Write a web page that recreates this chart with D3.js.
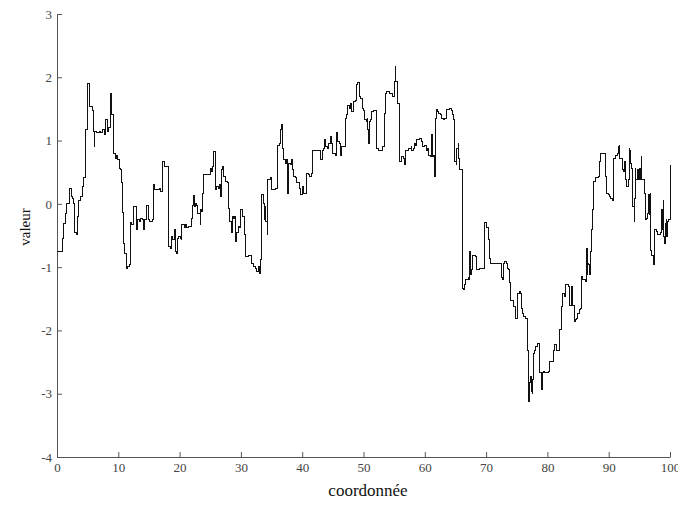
<!DOCTYPE html>
<html><head><meta charset="utf-8">
<script src="https://cdn.jsdelivr.net/npm/d3@7"></script>
<style>body{margin:0;background:#fff}svg{display:block}</style>
</head><body>
<svg id="c" width="678" height="507"></svg>
<script>
// step-series data: [coordonnée, valeur]
const segment1 = [[0,-0.75],[0.92,-0.54],[1.14,-0.31],[1.36,-0.15],[1.58,0.01],[2.0,0.04],[2.12,0.25],[2.34,0.12],[2.56,0.09],[2.77,0.01],[2.88,-0.46],[3.21,-0.49],[3.32,-0.2],[3.54,0.06],[3.86,0.11],[4.19,0.27],[4.4,0.41],[4.73,1.17],[4.95,1.9],[5.28,1.88],[5.38,1.54],[5.71,1.48],[5.93,1.14],[6.04,0.91],[6.15,1.14],[6.47,1.12],[6.91,1.14],[7.12,1.13],[7.45,1.17],[7.67,1.09],[7.99,1.33],[8.21,1.14],[8.43,1.2],[8.65,1.74],[8.86,1.41],[9.19,0.8],[9.52,0.72],[9.73,0.77],[9.95,0.7],[10.17,0.56],[10.39,0.54],[10.5,0.33],[10.71,-0.14],[10.82,-0.62],[11.04,-0.78],[11.26,-1.02],[11.58,-0.99],[11.8,-0.96],[12.02,-0.3],[12.23,-0.33],[12.45,-0.04],[13.0,-0.41],[13.21,-0.25],[13.43,-0.28],[13.65,-0.23],[13.87,-0.25],[14.08,-0.41],[14.3,-0.25],[14.63,-0.02],[14.85,-0.25],[15.17,-0.28],[15.5,-0.25]];
const segment2 = [[15.71,0.3],[15.93,0.22],[16.69,0.25],[16.91,0.19],[17.24,0.67],[17.46,0.59],[18.11,0.56],[18.22,-0.67],[18.55,-0.7],[18.65,-0.52],[18.87,-0.57],[19.09,-0.46],[19.2,-0.41],[19.3,-0.75],[19.53,-0.78],[19.63,-0.54],[19.85,-0.52],[20.07,-0.54],[20.28,-0.57],[20.39,-0.33],[20.72,-0.38],[20.93,-0.33],[21.16,-0.38],[21.48,-0.36],[22.02,-0.23],[22.14,-0.02],[22.24,0.13],[22.35,-0.04],[22.56,0.01],[22.79,-0.02],[23.0,-0.15],[23.33,-0.33],[23.44,-0.09],[23.65,-0.12],[23.77,0.17],[23.98,0.46],[24.96,0.56],[25.17,0.51],[25.4,0.59],[25.61,0.83],[25.82,0.22],[26.05,0.27],[26.38,0.25],[26.59,0.3],[26.7,0.12],[26.8,0.54],[27.03,0.59],[27.13,0.43],[27.46,0.35],[27.78,0.33],[28.01,-0.07],[28.22,-0.28],[28.43,-0.46],[28.55,-0.2],[28.76,-0.23],[28.99,-0.2],[29.09,-0.6],[29.32,-0.46],[29.53,-0.36],[29.74,-0.38],[29.97,-0.09],[30.18,-0.2],[30.62,-0.49],[30.83,-0.83],[31.27,-0.81]];
const segment3 = [[31.7,-0.94],[32.02,-0.99],[32.35,-1.02],[32.58,-1.07],[32.79,-0.99],[33.0,-1.1],[33.23,-0.88],[33.33,-0.57],[33.44,0.14],[33.66,0.01],[33.77,-0.25],[33.88,-0.04],[34.09,-0.28],[34.31,-0.49],[34.42,0.38],[34.86,0.41],[35.07,0.22],[35.61,0.25],[35.94,0.93],[36.26,0.96],[36.38,1.17],[36.59,1.25],[36.82,0.88],[37.03,0.7],[37.24,0.64],[37.47,0.7],[37.68,0.17],[37.8,0.64],[38.01,0.62],[38.22,0.7],[38.45,0.54],[38.66,0.43],[38.87,0.41],[39.1,0.33],[39.53,0.25],[39.76,0.14],[39.97,0.27],[40.18,0.17],[40.62,0.35],[40.73,0.48],[41.06,0.46],[41.27,0.43],[41.48,0.48],[41.71,0.85],[43.02,0.7],[43.23,0.85],[43.44,0.88],[43.67,1.01],[43.88,0.91],[44.09,0.88],[44.32,0.96],[44.54,1.06],[44.75,0.96],[44.98,0.8],[45.4,0.77],[45.63,1.12],[45.84,0.98],[46.05,0.96],[46.28,0.77],[46.49,0.91],[47.03,1.35],[47.26,1.41],[47.47,1.56],[47.68,1.51],[47.91,1.59],[48.12,1.46],[48.34,1.62],[48.66,1.64],[48.89,1.88],[49.1,1.91],[49.31,1.7]];
const segment4 = [[49.43,1.67],[49.87,1.51],[50.08,1.48],[50.2,1.33],[50.41,1.3],[50.62,1.35],[50.73,1.17],[50.84,0.96],[50.95,1.3],[51.17,1.33],[51.27,1.46],[51.6,1.48],[52.04,0.88],[52.37,0.85],[53.13,0.91],[53.46,1.43],[53.56,1.75],[53.78,1.77],[54.32,1.75],[54.76,1.7],[55.09,1.93],[55.19,2.17],[55.3,1.93],[55.51,1.59],[55.84,0.75],[55.95,0.67],[56.17,0.7],[56.28,0.75],[56.49,0.72],[56.61,0.62],[56.82,0.64],[56.93,0.85],[57.26,0.88],[57.8,0.91],[57.91,0.85],[58.13,0.88],[58.24,0.96],[58.56,0.93],[58.68,1.01],[59.1,1.04],[59.43,0.98],[59.66,0.91],[59.98,0.93],[60.2,0.91],[60.31,0.85],[60.52,0.88],[60.64,0.77],[60.85,0.75],[61.06,0.8],[61.17,1.09],[61.29,0.75],[61.5,0.77],[61.61,0.43],[61.71,1.35],[61.83,1.49],[62.04,1.46],[62.27,1.43],[62.48,1.41],[62.69,1.35],[63.02,1.33],[63.25,1.35],[63.46,1.41],[63.57,1.49],[64.11,1.51],[64.32,1.48],[64.44,1.41],[64.65,1.33]];
const segment5 = [[64.88,0.67],[65.09,0.62],[65.2,0.88],[65.42,0.96],[65.53,0.72],[65.63,0.7],[65.74,0.54],[66.07,-1.25],[66.18,-1.33],[66.39,-1.36],[66.51,-1.28],[66.61,-1.2],[67.05,-1.17],[67.26,-1.2],[67.37,-0.75],[67.49,-1.12],[67.59,-1.04],[67.81,-0.81],[68.35,-0.83],[68.47,-1.04],[68.89,-1.02],[69.66,-0.94],[69.77,-0.3],[70.1,-0.38],[70.31,-0.57],[70.52,-0.86],[70.75,-0.94],[72.48,-1.17],[72.71,-1.2],[72.81,-0.94],[73.04,-0.91],[73.25,-0.94],[73.46,-1.02],[73.69,-1.04],[73.79,-1.25],[73.9,-1.52],[74.55,-1.62],[74.77,-1.81],[75.2,-1.41],[75.42,-1.38],[75.64,-1.41],[75.74,-1.65],[75.97,-1.73],[76.18,-1.78],[76.4,-1.81],[76.72,-2.31],[76.84,-3.12],[77.16,-2.83],[77.27,-2.73],[77.37,-2.96],[77.49,-2.99],[77.6,-2.78],[77.7,-2.36],[77.93,-2.31],[78.14,-2.25],[78.35,-2.2],[78.68,-2.52],[78.79,-2.67],[79.0,-2.94],[79.12,-2.67],[79.33,-2.65],[79.56,-2.67],[80.1,-2.65],[80.31,-2.62]];
const segment6 = [[80.42,-2.49],[80.96,-2.31],[81.19,-2.23],[81.52,-2.31],[81.94,-2.28],[82.05,-1.99],[82.27,-1.62],[82.5,-1.41],[82.71,-1.46],[82.92,-1.28],[83.47,-1.31],[83.57,-1.6],[84.01,-1.31],[84.13,-1.6],[84.34,-1.86],[84.55,-1.83],[84.78,-1.81],[84.99,-1.73],[85.2,-1.67],[85.43,-1.65],[85.53,-1.15],[85.76,-1.2],[86.18,-1.23],[86.3,-0.7],[86.51,-1.12],[86.62,-0.94],[86.74,-0.96],[86.84,-1.12],[86.95,-0.75],[87.16,-0.41],[87.28,-0.09],[87.49,0.19],[87.6,0.35],[87.81,0.41],[88.37,0.43],[88.47,0.67],[88.69,0.79],[89.45,0.43],[89.67,0.17],[89.89,0.14],[90.1,0.12],[90.33,0.09],[90.54,0.06],[90.86,0.72],[91.19,0.77],[91.4,0.8],[91.63,0.91],[91.73,0.93],[91.84,0.72],[92.17,0.54],[92.38,0.51],[92.5,0.67],[92.71,0.46],[92.82,0.38],[92.94,0.27],[93.15,0.3],[93.26,0.38],[93.36,0.88],[93.47,0.85],[93.59,0.64],[93.8,0.56],[93.91,-0.04],[94.13,-0.28],[94.24,0.09],[94.34,0.56],[94.45,0.38],[94.67,0.54],[94.78,0.43],[94.89,0.38],[94.99,0.56],[95.11,0.38],[95.32,0.75],[95.43,0.38],[95.87,0.17],[95.97,-0.25],[96.2,-0.23],[96.41,-0.15],[96.52,0.14],[96.62,-0.17],[96.74,0.17],[96.85,-0.73],[97.06,-0.81],[97.28,-0.96],[97.5,-0.41],[97.72,-0.43],[97.93,-0.49],[98.37,-0.46],[98.58,-0.41],[98.69,-0.09],[98.81,-0.41],[98.91,0.06],[99.02,-0.52],[99.13,-0.62],[99.23,-0.31],[99.35,-0.25],[99.46,-0.52],[99.56,-0.28],[99.79,-0.25],[100,0.62]];

const xTicks = [0,10,20,30,40,50,60,70,80,90,100];
const yTicks = [-4,-3,-2,-1,0,1,2,3];
const xLabel = "coordonnée";
const yLabel = "valeur";

const series = [].concat(segment1, segment2, segment3, segment4, segment5, segment6);

const svg = d3.select("#c");
const x = d3.scaleLinear().domain([0,100]).range([57,670]);
const y = d3.scaleLinear().domain([-4,3]).range([457,14]);
const font = "'Liberation Serif','Times New Roman',serif";

const gx = svg.append("g").attr("transform","translate(0,457)")
  .call(d3.axisBottom(x).tickValues(xTicks).tickSizeInner(-5).tickSizeOuter(0).tickPadding(6).tickFormat(d3.format("d")));
const gy = svg.append("g").attr("transform","translate(57,0)")
  .call(d3.axisLeft(y).tickValues(yTicks).tickSizeInner(-5).tickSizeOuter(0).tickPadding(5).tickFormat(d3.format("d")));

[gx, gy].forEach(g => {
  g.select(".domain").attr("stroke","#555").attr("stroke-width",1);
  g.selectAll(".tick line").attr("stroke","#555");
  g.selectAll(".tick text").attr("fill","#444").style("font-family",font).style("font-size","13px");
});
gy.selectAll(".tick text").text(d => d < 0 ? "-" + Math.abs(d) : d);

svg.append("path")
  .datum(series)
  .attr("fill","none")
  .attr("stroke","#111")
  .attr("stroke-width",1)
  .attr("shape-rendering","crispEdges")
  .attr("d", d3.line().x(d => x(d[0])).y(d => y(d[1])).curve(d3.curveStepAfter));

svg.append("text")
  .attr("x",368).attr("y",496)
  .attr("text-anchor","middle")
  .style("font-family",font).style("font-size","17px").attr("fill","#111")
  .text(xLabel);

svg.append("text")
  .attr("transform","translate(30,227) rotate(-90)")
  .attr("text-anchor","middle")
  .style("font-family",font).style("font-size","15px").attr("fill","#111")
  .text(yLabel);
</script>
</body></html>
